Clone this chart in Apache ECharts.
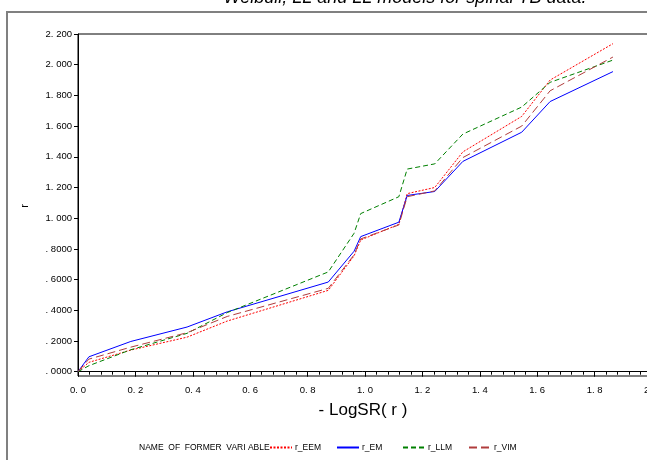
<!DOCTYPE html>
<html><head><meta charset="utf-8">
<script src="https://cdn.jsdelivr.net/npm/echarts@6/dist/echarts.min.js"></script>
<style>html,body{margin:0;padding:0;background:#fff}#c{width:647px;height:460px}</style>
</head><body><div id="c"></div>
<script>
const xValues = [0, 0.038, 0.184, 0.38, 0.52, 0.872, 0.962, 0.985, 1.118, 1.147, 1.243, 1.341, 1.546, 1.645, 1.864];
const rEEM = [0, 0.061, 0.141, 0.225, 0.33, 0.530, 0.755, 0.858, 0.960, 1.160, 1.200, 1.432, 1.663, 1.900, 2.137];
const rEM  = [0, 0.097, 0.197, 0.291, 0.39, 0.584, 0.785, 0.880, 0.974, 1.148, 1.174, 1.370, 1.560, 1.760, 1.955];
const rLLM = [0, 0.039, 0.143, 0.250, 0.385, 0.650, 0.902, 1.030, 1.140, 1.320, 1.354, 1.548, 1.724, 1.885, 2.030];
const rVIM = [0, 0.082, 0.160, 0.254, 0.36, 0.543, 0.762, 0.865, 0.956, 1.140, 1.178, 1.395, 1.600, 1.830, 2.050];
const seriesNames = ['r_EEM', 'r_EM', 'r_LLM', 'r_VIM'];
const yTicks = [0, 0.2, 0.4, 0.6, 0.8, 1.0, 1.2, 1.4, 1.6, 1.8, 2.0, 2.2];
const titleText = 'Weibull, LL and LL models for spinal TB data.';
const xTitle = '- LogSR( r )';
const yTitle = 'r';
const legendTitle = 'NAME  OF  FORMER  VARI ABLE';

const FONT = 'Liberation Sans, Arial, sans-serif';
const pairs = arr => xValues.map((x, i) => [x, arr[i]]);
function yFmt(v) {
  if (Math.abs(v) < 1e-9) return '. 0000';
  if (v < 0.999) return '. ' + v.toFixed(4).split('.')[1];
  const s = v.toFixed(3).split('.');
  return s[0] + '. ' + s[1];
}
const styles = [
  {color: '#ff0000', type: [2, 1.5]},
  {color: '#0000ff', type: 'solid'},
  {color: '#008000', type: [5, 3]},
  {color: '#b03c3c', type: [8, 4]}
];
const dataSets = [rEEM, rEM, rLLM, rVIM];
const legendLeft = [269, 336, 402, 468];

const chart = echarts.init(document.getElementById('c'), null, {renderer: 'canvas'});
chart.setOption({
  animation: false,
  backgroundColor: '#fff',
  grid: {left: 78, top: 34, width: 574, bottom: 84, show: true, borderColor: '#000', borderWidth: 1,
         containLabel: false, outerBoundsMode: 'none'},
  xAxis: {
    type: 'value', min: 0, max: 2.0, interval: 0.2,
    axisLine: {show: true, lineStyle: {color: '#000', width: 1}},
    axisTick: {show: true, length: 5, lineStyle: {color: '#000'}},
    minorTick: {show: true, splitNumber: 5, length: 3, lineStyle: {color: '#000'}},
    splitLine: {show: false},
    axisLabel: {fontFamily: FONT, fontSize: 9.5, color: '#000', margin: 9, showMaxLabel: true,
      formatter: v => { const s = v.toFixed(1).split('.'); return s[0] + '. ' + s[1]; }}
  },
  yAxis: {
    type: 'value', min: -0.028, max: 2.2,
    axisLine: {show: true, lineStyle: {color: '#000', width: 1}},
    axisTick: {show: true, length: 4, lineStyle: {color: '#000'}, customValues: yTicks},
    splitLine: {show: false},
    axisLabel: {fontFamily: FONT, fontSize: 9.5, color: '#000', margin: 6, customValues: yTicks, formatter: yFmt}
  },
  legend: seriesNames.map((n, i) => ({
    left: legendLeft[i], top: 443, itemWidth: 22, itemHeight: 10, itemGap: 5, padding: 0,
    data: [n],
    itemStyle: {opacity: 0},
    textStyle: {fontFamily: FONT, fontSize: 8.5, color: '#000', padding: [0, 0, 0, -2]}
  })),
  series: dataSets.map((d, i) => ({
    name: seriesNames[i], type: 'line', data: pairs(d), symbol: 'none', silent: true,
    lineStyle: {color: styles[i].color, width: 1, type: styles[i].type},
    itemStyle: {color: styles[i].color}
  })),
  graphic: [
    {type: 'rect', shape: {x: 7, y: 12, width: 800, height: 600}, style: {fill: 'none', stroke: '#808080', lineWidth: 2}, z: 0},
    {type: 'text', x: 405, y: 7, style: {text: titleText, fontFamily: FONT, fontSize: 18, fontStyle: 'italic', fill: '#000', textAlign: 'center', textVerticalAlign: 'bottom'}},
    {type: 'text', x: 363, y: 410, style: {text: xTitle, fontFamily: FONT, fontSize: 17, fill: '#000', textAlign: 'center', textVerticalAlign: 'middle'}},
    {type: 'text', x: 25, y: 206, rotation: Math.PI / 2, style: {text: yTitle, fontFamily: FONT, fontSize: 11, fill: '#000', textAlign: 'center', textVerticalAlign: 'middle'}},
    {type: 'text', x: 139, y: 448, style: {text: legendTitle, fontFamily: FONT, fontSize: 8.5, fill: '#000', textAlign: 'left', textVerticalAlign: 'middle'}}
  ]
});
</script></body></html>
